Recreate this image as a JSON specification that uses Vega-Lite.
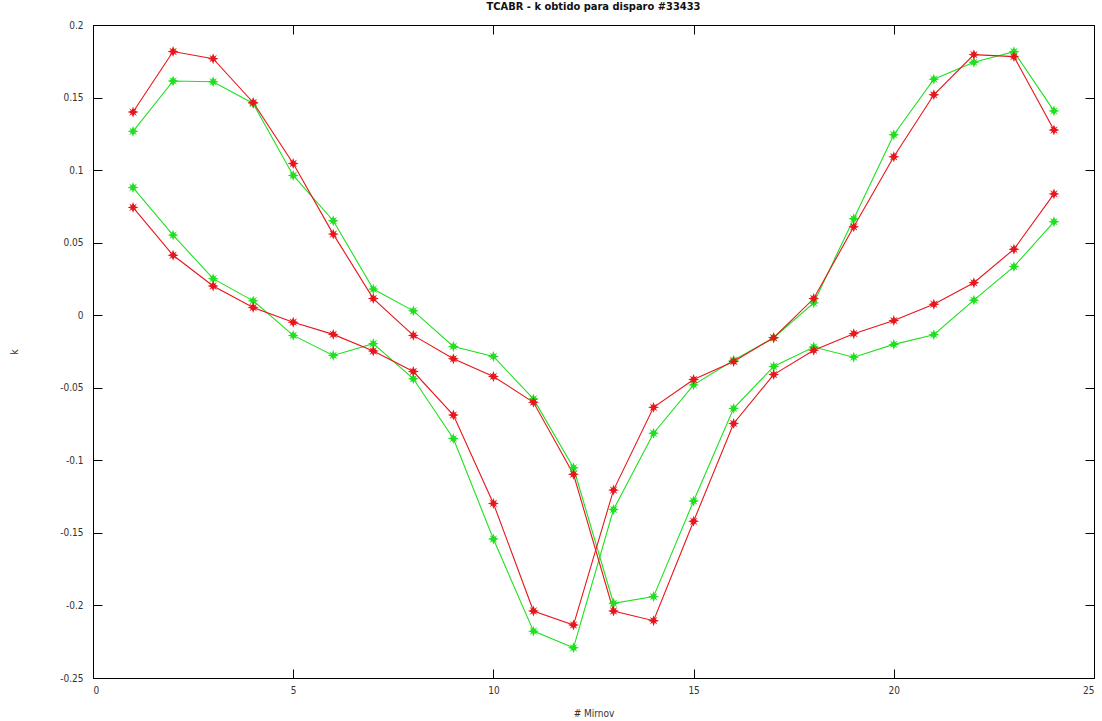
{
  "$schema": "https://vega.github.io/schema/vega-lite/v6.json",
  "width": 1001,
  "height": 653,
  "autosize": {"type": "none"},
  "padding": {"left": 93, "top": 25, "right": 8, "bottom": 43},
  "background": "white",
  "title": {"text": "TCABR - k obtido para disparo #33433", "fontSize": 11, "fontWeight": "bold", "font": "Liberation Sans Narrow, DejaVu Sans Condensed, sans-serif", "color": "#111", "offset": 8, "anchor": "middle"},
  "config": {
    "view": {"stroke": "#000", "strokeWidth": 1},
    "locale": {"number": {"decimal": ".", "thousands": ",", "grouping": [3], "currency": ["$", ""], "minus": "-"}},
    "axis": {"grid": false, "domain": false, "tickColor": "#000", "tickSize": -9, "labelFont": "Liberation Sans Narrow, DejaVu Sans Condensed, sans-serif", "labelFontSize": 10, "labelColor": "#333", "titleFont": "Liberation Sans Narrow, DejaVu Sans Condensed, sans-serif", "titleFontSize": 10, "titleFontWeight": "normal", "titleColor": "#333"}
  },
  "data": {"values": [
    {"m":1,"k":0.1267,"s":"A","c":"g"},{"m":2,"k":0.1614,"s":"A","c":"g"},{"m":3,"k":0.1609,"s":"A","c":"g"},{"m":4,"k":0.1459,"s":"A","c":"g"},{"m":5,"k":0.0963,"s":"A","c":"g"},{"m":6,"k":0.0651,"s":"A","c":"g"},{"m":7,"k":0.018,"s":"A","c":"g"},{"m":8,"k":0.003,"s":"A","c":"g"},{"m":9,"k":-0.0215,"s":"A","c":"g"},{"m":10,"k":-0.0284,"s":"A","c":"g"},{"m":11,"k":-0.0577,"s":"A","c":"g"},{"m":12,"k":-0.1051,"s":"A","c":"g"},{"m":13,"k":-0.1985,"s":"A","c":"g"},{"m":14,"k":-0.1939,"s":"A","c":"g"},{"m":15,"k":-0.128,"s":"A","c":"g"},{"m":16,"k":-0.0642,"s":"A","c":"g"},{"m":17,"k":-0.0353,"s":"A","c":"g"},{"m":18,"k":-0.0219,"s":"A","c":"g"},{"m":19,"k":-0.0289,"s":"A","c":"g"},{"m":20,"k":-0.0201,"s":"A","c":"g"},{"m":21,"k":-0.0134,"s":"A","c":"g"},{"m":22,"k":0.0104,"s":"A","c":"g"},{"m":23,"k":0.0335,"s":"A","c":"g"},{"m":24,"k":0.0644,"s":"A","c":"g"},
    {"m":1,"k":0.088,"s":"B","c":"g"},{"m":2,"k":0.0552,"s":"B","c":"g"},{"m":3,"k":0.0252,"s":"B","c":"g"},{"m":4,"k":0.0099,"s":"B","c":"g"},{"m":5,"k":-0.0139,"s":"B","c":"g"},{"m":6,"k":-0.0277,"s":"B","c":"g"},{"m":7,"k":-0.0196,"s":"B","c":"g"},{"m":8,"k":-0.0438,"s":"B","c":"g"},{"m":9,"k":-0.085,"s":"B","c":"g"},{"m":10,"k":-0.1542,"s":"B","c":"g"},{"m":11,"k":-0.2177,"s":"B","c":"g"},{"m":12,"k":-0.2292,"s":"B","c":"g"},{"m":13,"k":-0.1339,"s":"B","c":"g"},{"m":14,"k":-0.0813,"s":"B","c":"g"},{"m":15,"k":-0.048,"s":"B","c":"g"},{"m":16,"k":-0.031,"s":"B","c":"g"},{"m":17,"k":-0.0155,"s":"B","c":"g"},{"m":18,"k":0.0085,"s":"B","c":"g"},{"m":19,"k":0.0665,"s":"B","c":"g"},{"m":20,"k":0.1244,"s":"B","c":"g"},{"m":21,"k":0.1627,"s":"B","c":"g"},{"m":22,"k":0.1743,"s":"B","c":"g"},{"m":23,"k":0.1816,"s":"B","c":"g"},{"m":24,"k":0.1408,"s":"B","c":"g"},
    {"m":1,"k":0.14,"s":"A","c":"r"},{"m":2,"k":0.1817,"s":"A","c":"r"},{"m":3,"k":0.1768,"s":"A","c":"r"},{"m":4,"k":0.1466,"s":"A","c":"r"},{"m":5,"k":0.1046,"s":"A","c":"r"},{"m":6,"k":0.0559,"s":"A","c":"r"},{"m":7,"k":0.0115,"s":"A","c":"r"},{"m":8,"k":-0.0139,"s":"A","c":"r"},{"m":9,"k":-0.03,"s":"A","c":"r"},{"m":10,"k":-0.0422,"s":"A","c":"r"},{"m":11,"k":-0.06,"s":"A","c":"r"},{"m":12,"k":-0.1096,"s":"A","c":"r"},{"m":13,"k":-0.2038,"s":"A","c":"r"},{"m":14,"k":-0.2105,"s":"A","c":"r"},{"m":15,"k":-0.142,"s":"A","c":"r"},{"m":16,"k":-0.0746,"s":"A","c":"r"},{"m":17,"k":-0.0409,"s":"A","c":"r"},{"m":18,"k":-0.0242,"s":"A","c":"r"},{"m":19,"k":-0.0127,"s":"A","c":"r"},{"m":20,"k":-0.0037,"s":"A","c":"r"},{"m":21,"k":0.0076,"s":"A","c":"r"},{"m":22,"k":0.0224,"s":"A","c":"r"},{"m":23,"k":0.0455,"s":"A","c":"r"},{"m":24,"k":0.0836,"s":"A","c":"r"},
    {"m":1,"k":0.0743,"s":"B","c":"r"},{"m":2,"k":0.0413,"s":"B","c":"r"},{"m":3,"k":0.0201,"s":"B","c":"r"},{"m":4,"k":0.0053,"s":"B","c":"r"},{"m":5,"k":-0.0048,"s":"B","c":"r"},{"m":6,"k":-0.0132,"s":"B","c":"r"},{"m":7,"k":-0.0247,"s":"B","c":"r"},{"m":8,"k":-0.0388,"s":"B","c":"r"},{"m":9,"k":-0.0688,"s":"B","c":"r"},{"m":10,"k":-0.1297,"s":"B","c":"r"},{"m":11,"k":-0.2038,"s":"B","c":"r"},{"m":12,"k":-0.2135,"s":"B","c":"r"},{"m":13,"k":-0.1205,"s":"B","c":"r"},{"m":14,"k":-0.0635,"s":"B","c":"r"},{"m":15,"k":-0.0443,"s":"B","c":"r"},{"m":16,"k":-0.0319,"s":"B","c":"r"},{"m":17,"k":-0.0155,"s":"B","c":"r"},{"m":18,"k":0.0115,"s":"B","c":"r"},{"m":19,"k":0.0609,"s":"B","c":"r"},{"m":20,"k":0.1092,"s":"B","c":"r"},{"m":21,"k":0.1519,"s":"B","c":"r"},{"m":22,"k":0.1796,"s":"B","c":"r"},{"m":23,"k":0.1782,"s":"B","c":"r"},{"m":24,"k":0.1276,"s":"B","c":"r"}
  ]},
  "layer": [
    {
      "mark": {"type": "line", "strokeWidth": 1.1, "point": {"shape": "M0,-1L0.22,-0.4L0.7,-0.7L0.4,-0.22L1,0L0.4,0.22L0.7,0.7L0.22,0.4L0,1L-0.22,0.4L-0.7,0.7L-0.4,0.22L-1,0L-0.4,-0.22L-0.7,-0.7L-0.22,-0.4Z", "filled": true, "size": 120, "opacity": 1}},
      "encoding": {
        "x": {"field": "m", "type": "quantitative", "scale": {"domain": [0, 25], "nice": false, "zero": false}, "axis": {"values": [0, 5, 10, 15, 20, 25], "title": "# Mirnov", "labelPadding": 16, "titlePadding": 13, "orient": "bottom"}},
        "y": {"field": "k", "type": "quantitative", "scale": {"domain": [-0.25, 0.2], "nice": false, "zero": false}, "axis": {"values": [-0.25, -0.2, -0.15, -0.1, -0.05, 0, 0.05, 0.1, 0.15, 0.2], "format": "~g", "title": "k", "labelPadding": 19, "titlePadding": 40, "orient": "left"}},
        "color": {"field": "c", "type": "nominal", "scale": {"domain": ["g", "r"], "range": ["#1fe01f", "#e8151b"]}, "legend": null},
        "detail": {"field": "s"},
        "order": {"field": "m"}
      }
    },
    {
      "mark": {"type": "point", "opacity": 0},
      "encoding": {
        "x": {"field": "m", "type": "quantitative", "axis": {"orient": "top", "values": [0, 5, 10, 15, 20, 25], "labels": false, "title": null}},
        "y": {"field": "k", "type": "quantitative", "axis": {"orient": "right", "values": [-0.25, -0.2, -0.15, -0.1, -0.05, 0, 0.05, 0.1, 0.15, 0.2], "labels": false, "title": null}}
      }
    }
  ],
  "resolve": {"axis": {"x": "independent", "y": "independent"}}
}
